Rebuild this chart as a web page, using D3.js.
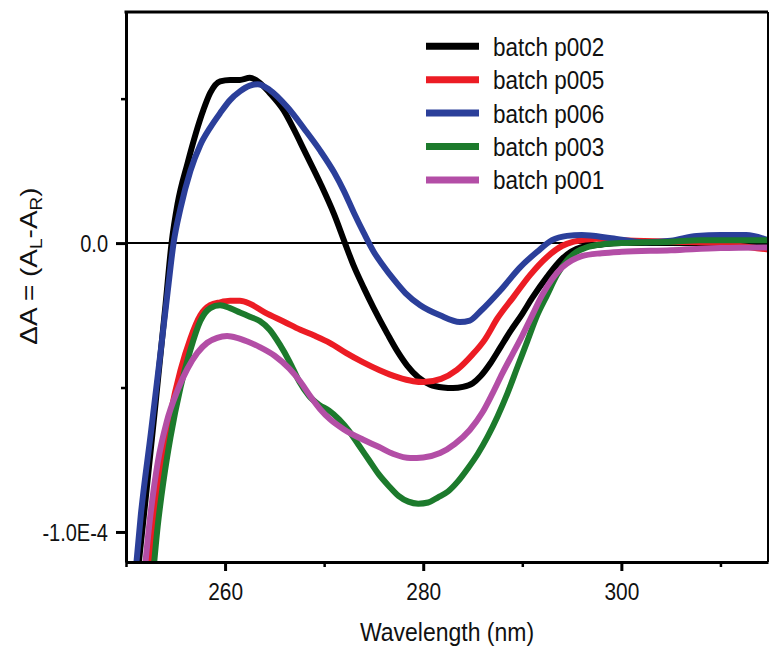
<!DOCTYPE html>
<html lang="en">
<head>
<meta charset="utf-8"/>
<title>CD spectra of batches</title>
<script src="https://cdn.jsdelivr.net/npm/d3@7"></script>
<style>
body { margin: 0; background: #fff; }
text { font-family: Arial, "Liberation Sans", sans-serif; fill: #111; }
.line { fill: none; stroke-width: 6; stroke-linejoin: round; stroke-linecap: round; }
.axis path, .axis line { stroke: #000; }
</style>
</head>
<body>
<div id="chart"></div>
<script>
// values are in units of 1e-5 (delta A), wavelength in nm
var unit = 1e-5;

var p002 = [[251.0,-12],[252,-8.8],[253,-5.5],[254,-2.1],[254.6,0],[255.2,1.35],[256.2,2.75],[257.8,4.6],
  [258.5,5.2],[259.5,5.6],[260.5,5.65],[261.5,5.65],[262.5,5.72],[263.5,5.55],[264.5,5.2],[265.9,4.6],
  [267,3.9],[268,3.2],[269.6,2.08],[271,1.0],[272.1,0],[273,-0.8],[274,-1.55],[275,-2.25],[276.4,-3.15],
  [277.4,-3.75],[278.4,-4.25],[279.5,-4.65],[280.7,-4.9],[282,-5.0],[283,-5.02],[284,-4.98],[285,-4.85],
  [285.8,-4.6],[286.8,-4.15],[287.8,-3.6],[288.8,-3.05],[290,-2.45],[291,-1.9],[292.5,-1.17],[294,-0.55],
  [295.9,-0.15],[298,-0.05],[300,0],[305,0],[310,-0.02],[314.8,-0.05]];

var p005 = [[252.2,-12],[252.8,-10],[253.5,-8.0],[254.5,-5.9],[255.5,-4.4],[256.5,-3.3],[257.5,-2.5],
  [258.5,-2.15],[259.5,-2.05],[260.5,-2.0],[261.5,-2.0],[262.5,-2.1],[264,-2.4],[266,-2.73],[267.6,-3.0],
  [269,-3.2],[270.6,-3.46],[272.2,-3.8],[273.9,-4.12],[275.6,-4.4],[277.4,-4.64],[279,-4.78],[280,-4.81],
  [281.8,-4.7],[283.4,-4.39],[285,-3.85],[286.2,-3.35],[287.5,-2.6],[289.1,-1.87],[290.8,-1.1],[292.5,-0.48],
  [294,-0.1],[295.2,0.05],[297.5,0.15],[300,0.1],[305,0.05],[310,0],[312,-0.1],[314.8,-0.22]];

var p006 = [[250.8,-12],[251.5,-9.4],[252.5,-6.6],[253.5,-3.75],[254.2,-1.7],[254.8,0],[255.5,1.2],
  [256.5,2.5],[257.5,3.4],[258.5,4.0],[259.5,4.5],[260.5,4.95],[261.5,5.25],[262.5,5.45],[263.3,5.5],
  [264.5,5.3],[266.3,4.7],[268,3.95],[269.6,3.2],[271,2.45],[272,1.8],[273,1.05],[274,0.35],[275,-0.3],
  [276,-0.8],[277,-1.25],[278.2,-1.73],[279.7,-2.15],[281.7,-2.5],[283.7,-2.73],[284.7,-2.68],[285.8,-2.35],
  [287.8,-1.63],[289.8,-0.83],[291.5,-0.3],[293,0.1],[294.5,0.25],[296,0.28],[299,0.17],[302.5,0.03],
  [305,0.08],[307.6,0.25],[310,0.28],[312.6,0.28],[314.8,0.1]];

var p003 = [[252.6,-12],[253.2,-9.8],[253.8,-8.2],[254.5,-6.7],[255.5,-5.0],[256.5,-3.7],[257.5,-2.7],
  [258.5,-2.25],[259.5,-2.15],[260.5,-2.25],[261.5,-2.4],[262.5,-2.55],[263.5,-2.7],[264.5,-3.0],[265.5,-3.5],
  [266.5,-4.1],[267.5,-4.8],[268.5,-5.3],[269.5,-5.6],[270.5,-5.8],[271.5,-6.1],[272.5,-6.5],[273.5,-7.0],
  [274.5,-7.5],[275.5,-8.0],[276.5,-8.4],[277.5,-8.75],[278.5,-8.95],[279.5,-9.02],[280.5,-8.98],[281.5,-8.8],
  [282.5,-8.6],[283.5,-8.25],[284.5,-7.8],[285.5,-7.3],[286.5,-6.7],[287.5,-6.0],[288.5,-5.2],[289.5,-4.3],
  [290.5,-3.4],[291.5,-2.5],[292.5,-1.8],[293.5,-1.1],[294.5,-0.6],[295.5,-0.3],[296.5,-0.15],[298,-0.05],
  [300,0],[305,0.05],[308,0.1],[314.8,0.1]];

var p001 = [[251.7,-12],[252.4,-9.6],[253.2,-7.6],[254.1,-6.2],[255.2,-5.1],[256.2,-4.35],[257.2,-3.8],
  [258.2,-3.45],[259.2,-3.28],[260.2,-3.22],[261.2,-3.28],[262.2,-3.4],[263.5,-3.6],[265,-3.9],[266.5,-4.35],
  [267.6,-4.8],[268.6,-5.3],[269.6,-5.75],[270.6,-6.1],[272,-6.45],[273.9,-6.8],[275.5,-7.05],[277,-7.3],
  [278.7,-7.44],[280,-7.42],[281.7,-7.27],[283.2,-6.95],[284.7,-6.47],[286,-5.85],[287,-5.2],[288,-4.5],
  [289,-3.85],[290,-3.2],[291,-2.5],[292,-1.8],[293,-1.25],[294,-0.85],[295,-0.6],[296,-0.45],[298,-0.35],
  [300,-0.3],[305,-0.25],[310,-0.17],[314.8,-0.15]];

var seriesNames = ["batch p002", "batch p005", "batch p006", "batch p003", "batch p001"];
var seriesData = [p002, p005, p006, p003, p001];
var seriesColors = ["#000000", "#ec1c24", "#2b3f9a", "#1c7a2c", "#b34ea6"];

var xMajor = [260, 280, 300];
var xMinor = [250, 270, 290, 310];
var yMajor = [0, -1e-4];
var yLabels = ["0.0", "-1.0E-4"];
var yMinor = [0.5e-4, -0.5e-4];

var w = 771, h = 651;
var plotLeft = 126, plotRight = 768, plotTop = 12, plotBottom = 562;
var squeeze = 0.87;

var svg = d3.select("#chart").append("svg")
  .attr("width", w).attr("height", h);

var xScale = d3.scaleLinear().domain([250, 314.8]).range([plotLeft, plotRight]);
var yScale = d3.scaleLinear().domain([-1.104e-4, 0.8e-4]).range([plotBottom, plotTop]);

svg.append("clipPath").attr("id", "plotClip")
  .append("rect")
  .attr("x", plotLeft).attr("y", plotTop)
  .attr("width", plotRight - plotLeft).attr("height", plotBottom - plotTop);

// zero line
svg.append("line")
  .attr("x1", plotLeft).attr("x2", plotRight)
  .attr("y1", yScale(0)).attr("y2", yScale(0))
  .attr("stroke", "#000").attr("stroke-width", 2);

var line = d3.line()
  .x(function(d){ return xScale(d[0]); })
  .y(function(d){ return yScale(d[1] * unit); })
  .curve(d3.curveMonotoneX);

svg.append("g").attr("clip-path", "url(#plotClip)")
  .selectAll("path")
  .data(seriesData)
  .join("path")
  .attr("class", "line")
  .attr("stroke", function(d, i){ return seriesColors[i]; })
  .attr("d", line);

// top and right border
svg.append("line")
  .attr("x1", plotLeft - 1.5).attr("x2", plotRight)
  .attr("y1", plotTop).attr("y2", plotTop)
  .attr("stroke", "#000").attr("stroke-width", 3);
svg.append("line")
  .attr("x1", plotRight).attr("x2", plotRight)
  .attr("y1", plotTop).attr("y2", plotBottom)
  .attr("stroke", "#000").attr("stroke-width", 2);

// x axis
var xAxis = d3.axisBottom(xScale).tickValues(xMajor).tickFormat(function(d){ return d; })
  .tickSize(9).tickSizeOuter(0);
var gx = svg.append("g").attr("class", "axis")
  .attr("transform", "translate(0," + plotBottom + ")")
  .call(xAxis);
gx.select(".domain").attr("stroke-width", 3);
gx.selectAll(".tick line").attr("stroke-width", 3);
gx.selectAll(".tick text")
  .attr("y", 38).attr("dy", 0)
  .attr("font-size", 24)
  .attr("transform", "scale(" + squeeze + ",1)");

var gxm = svg.append("g").attr("class", "axis")
  .attr("transform", "translate(0," + plotBottom + ")")
  .call(d3.axisBottom(xScale).tickValues(xMinor).tickFormat("").tickSize(5).tickSizeOuter(0));
gxm.select(".domain").remove();
gxm.selectAll(".tick line").attr("stroke-width", 2.5);

// y axis
var yAxis = d3.axisLeft(yScale).tickValues(yMajor)
  .tickFormat(function(d, i){ return yLabels[i]; })
  .tickSize(10).tickSizeOuter(0);
var gy = svg.append("g").attr("class", "axis")
  .attr("transform", "translate(" + plotLeft + ",0)")
  .call(yAxis);
gy.select(".domain").attr("stroke-width", 3);
gy.selectAll(".tick line").attr("stroke-width", 3);
gy.selectAll(".tick text")
  .attr("x", -18 / squeeze).attr("dy", "0.36em")
  .attr("font-size", 23)
  .attr("transform", "scale(" + squeeze + ",1)");

var gym = svg.append("g").attr("class", "axis")
  .attr("transform", "translate(" + plotLeft + ",0)")
  .call(d3.axisLeft(yScale).tickValues(yMinor).tickFormat("").tickSize(5).tickSizeOuter(0));
gym.select(".domain").remove();
gym.selectAll(".tick line").attr("stroke-width", 2.5);

// axis titles
svg.append("text")
  .attr("transform", "translate(" + ((plotLeft + plotRight) / 2) + ",641) scale(0.92,1)")
  .attr("text-anchor", "middle")
  .attr("font-size", 25)
  .text("Wavelength (nm)");

var yTitle = svg.append("text")
  .attr("transform", "translate(37,266) rotate(-90) scale(1," + squeeze + ")")
  .attr("text-anchor", "middle")
  .attr("font-size", 28);
yTitle.append("tspan").text("\u0394A = (A");
yTitle.append("tspan").attr("font-size", 19).attr("dy", 6).text("L");
yTitle.append("tspan").attr("dy", -6).text("-A");
yTitle.append("tspan").attr("font-size", 19).attr("dy", 6).text("R");
yTitle.append("tspan").attr("dy", -6).text(")");

// legend
var legend = svg.append("g").selectAll("g")
  .data(seriesNames)
  .join("g")
  .attr("transform", function(d, i){ return "translate(426," + (46.3 + i * 33.4) + ")"; });
legend.append("line")
  .attr("x1", 0).attr("x2", 53)
  .attr("stroke", function(d, i){ return seriesColors[i]; })
  .attr("stroke-width", 7);
legend.append("text")
  .attr("transform", "translate(67,9.5) scale(0.9,1)")
  .attr("font-size", 25)
  .text(function(d){ return d; });
</script>
</body>
</html>
